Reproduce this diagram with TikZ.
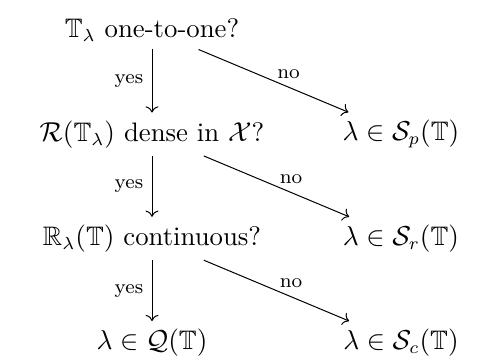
\documentclass[tikz,border=0pt]{standalone}
\usepackage{amsmath}
\usepackage{amssymb}
\usepackage{tikz}
\usetikzlibrary{arrows.meta,positioning}

\begin{document}
\begin{tikzpicture}[
  font=\fontsize{10.7pt}{13pt}\selectfont,
  test/.style={inner sep=3pt},
  result/.style={inner sep=3pt},
  arrow/.style={-To},
  answer/.style={font=\footnotesize},
  node distance=41.7pt and 99.6pt, on grid,
]
  \useasboundingbox (-60.8pt,12pt) rectangle (131.6pt,-132.8pt);

  \node[test] (inj) at (0,0) {$\mathbb{T}_\lambda$ one-to-one?};
  \node[test, below=of inj]    (dense) {$\mathcal{R}(\mathbb{T}_\lambda)$ dense in $\mathcal{X}$?};
  \node[test, below=of dense]  (cont)  {$\mathbb{R}_\lambda(\mathbb{T})$ continuous?};
  \node[result, below=of cont] (reg)   {$\lambda\in\mathcal{Q}(\mathbb{T})$};

  \node[result, right=of dense] (point) {$\lambda\in\mathcal{S}_p(\mathbb{T})$};
  \node[result, right=of cont]  (resid) {$\lambda\in\mathcal{S}_r(\mathbb{T})$};
  \node[result, right=of reg]   (conti) {$\lambda\in\mathcal{S}_c(\mathbb{T})$};

  \draw[arrow] (inj) -- node[left, answer] {yes} (dense);
  \draw[arrow] (dense) -- node[left, answer] {yes} (cont);
  \draw[arrow] (cont) -- node[left, answer] {yes} (reg);

  \draw[arrow] (inj) -- node[above, answer, pos=0.6] {no} (point);
  \draw[arrow] (dense) -- node[above, answer, pos=0.6] {no} (resid);
  \draw[arrow] (cont) -- node[above, answer, pos=0.6] {no} (conti);
\end{tikzpicture}
\end{document}
